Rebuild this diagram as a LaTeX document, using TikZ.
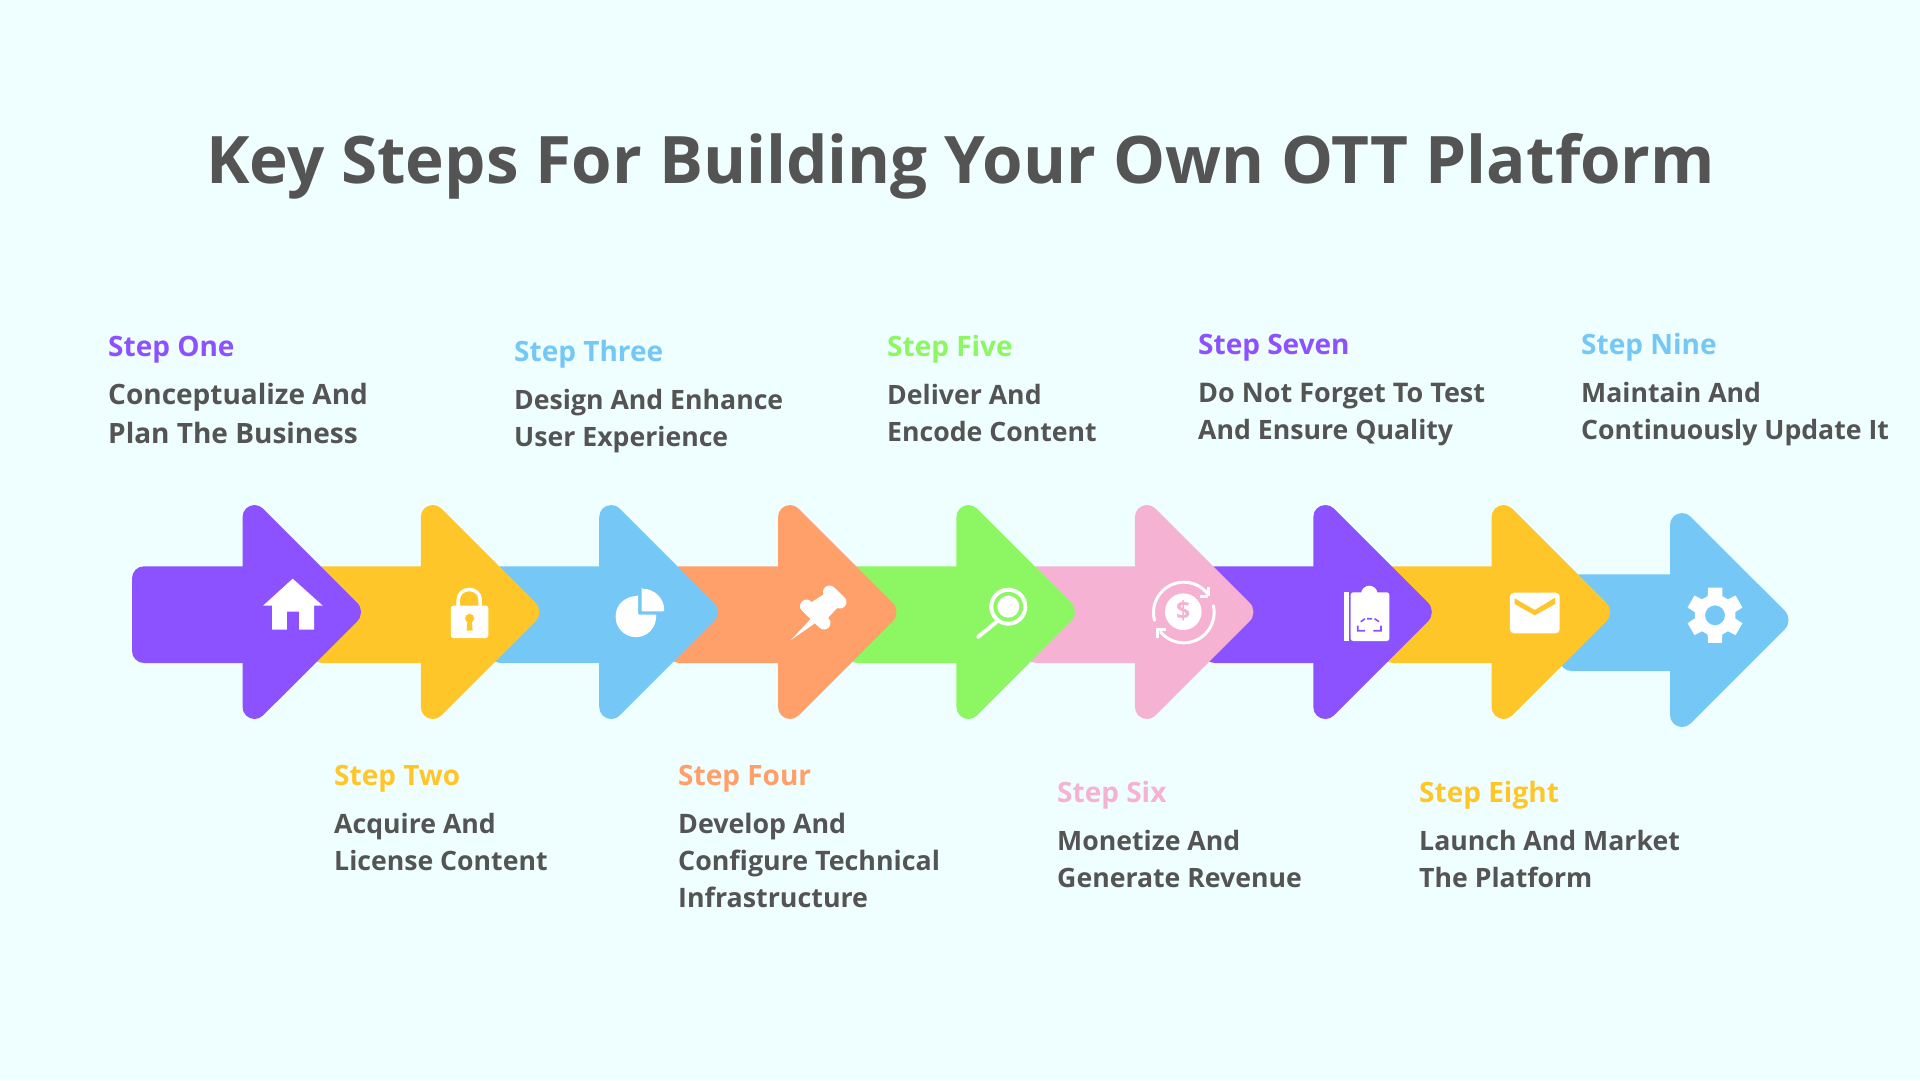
\documentclass[tikz,border=0pt]{standalone}
\usepackage{fontspec}
\setmainfont{Open Sans}
\definecolor{bgc}{HTML}{EFFFFF}
\definecolor{txc}{HTML}{545454}
\definecolor{pur}{HTML}{8C52FF}
\definecolor{yel}{HTML}{FFC629}
\definecolor{blu}{HTML}{75C8F5}
\definecolor{ora}{HTML}{FF9F69}
\definecolor{gre}{HTML}{8DF763}
\definecolor{pnk}{HTML}{F5B2D3}
\tikzset{
  ttl/.style={anchor=base west,inner sep=0pt,font=\fontsize{65.55}{78}\selectfont\bfseries,text=txc},
  stl/.style={anchor=base west,inner sep=0pt,font=\fontsize{28}{34}\selectfont\bfseries},
  bdy/.style={anchor=base west,inner sep=0pt,align=left,font=\fontsize{26.65}{36}\selectfont\bfseries,text=txc},
  bdm/.style={anchor=base west,inner sep=0pt,align=left,font=\fontsize{26.8}{36}\selectfont\bfseries,text=txc},
  bdl/.style={anchor=base west,inner sep=0pt,align=left,font=\fontsize{27}{36}\selectfont\bfseries,text=txc},
  bdb/.style={anchor=base west,inner sep=0pt,align=left,font=\fontsize{28}{39}\selectfont\bfseries,text=txc},
  icn/.style={fill=white,draw=none},
  ils/.style={draw=white,line width=4pt,line cap=round,fill=none}
}
\newcommand{\stepshape}[3]{%
  \begin{scope}[shift={(#2,#3)}]
  \fill[#1] (-98.5,-45.7) -- (0,-45.7) -- (0,-95)
    arc[start angle=180,end angle=45,radius=12pt] -- (114.6,-9.4)
    arc[start angle=45,end angle=-45,radius=13.3pt] -- (20.49,103.49)
    arc[start angle=-45,end angle=-180,radius=12pt] -- (0,51) -- (-98.5,51)
    arc[start angle=270,end angle=180,radius=12pt] -- (-110.5,-33.7)
    arc[start angle=180,end angle=90,radius=12pt] -- cycle;
  \end{scope}}
\begin{document}
\begin{tikzpicture}[x=1pt,y=-1pt]
\useasboundingbox[fill=bgc] (0,0) rectangle (1920,1080);
\stepshape{blu}{1670}{620}
\stepshape{yel}{1491.6}{612}
\stepshape{pur}{1313.3}{612}
\stepshape{pnk}{1134.9}{612}
\stepshape{gre}{956.4}{612}
\stepshape{ora}{778}{612}
\stepshape{blu}{599.2}{612}
\stepshape{yel}{420.8}{612}
\stepshape{pur}{242.5}{612}
% home
\fill[icn] (292.7,578.7) -- (322.8,605.7) -- (314,605.7) -- (314,629.7) -- (299,629.7) -- (299,611.7) -- (286.8,611.7) -- (286.8,629.7) -- (272,629.7) -- (272,605.7) -- (263,605.7) -- cycle;
% lock
\fill[icn,rounded corners=2.5pt] (450.8,605.7) rectangle (488.4,638);
\draw[white,line width=3.5pt] (458.2,606) -- (458.2,600) .. controls (458.2,586) and (480.2,586) .. (480.2,600) -- (480.2,606);
\fill[yel] (469.6,618.3) circle[radius=4.5pt];
\fill[yel] (467.6,619) -- (471.6,619) -- (472.6,630.7) -- (466.6,630.7) -- cycle;
% pie
\fill[icn,rounded corners=1pt] (638.2,596) -- (638.2,614.7) -- (656.3,614.7) .. controls (656.3,628) and (647,637) .. (636,637) .. controls (625,637) and (615.7,628) .. (615.7,616.5) .. controls (615.7,605) and (625,596) .. (638.2,596) -- cycle;
\fill[icn,rounded corners=1pt] (641.7,588.7) -- (641.7,611.3) -- (664.3,611.3) .. controls (664.3,598) and (654,588.7) .. (641.7,588.7) -- cycle;
% pin
\draw[white,line width=13pt,line cap=round] (829.5,592) -- (840,602);
\draw[white,line width=13pt,line cap=round] (806.5,606) -- (824,623);
\fill[icn] (829,591) -- (842,603) -- (824,622) -- (807,605) -- cycle;
\fill[icn] (791,640) -- (811.5,618) -- (816,622.5) -- cycle;
% magnifier
\draw[white,line width=4pt] (1008.3,606.7) circle[radius=17pt];
\fill[icn] (1008.3,606.7) circle[radius=11pt];
\draw[ils] (996,622.3) -- (978.3,636.7);
% dollar
\fill[icn] (1183.3,611.7) circle[radius=18.3pt];
\node[inner sep=0pt,text=pnk,font=\fontsize{25}{25}\selectfont\bfseries] (dollar) at (1183.3,611.2) {\$};
\draw[white,line width=3pt,line cap=round] plot[domain=195:36,samples=40] ({1183.8+30.3*cos(\x)},{612.5-30.3*sin(\x)});
\draw[white,line width=3pt,line cap=round] plot[domain=13:-140,samples=40] ({1183.8+30.3*cos(\x)},{612.5-30.3*sin(\x)});
\draw[white,line width=3pt] (1208.3,596) -- (1208.3,587) (1208.3,596) -- (1200,596);
\draw[white,line width=3pt] (1157.3,638) -- (1157.3,629.5) -- (1166,629.5);
% clipboard
\fill[icn] (1344.3,592.3) rectangle (1349,641);
\fill[icn,rounded corners=2.5pt] (1350.7,592.3) rectangle (1389.3,641);
\fill[icn] (1369.3,594) circle[radius=8.3pt];
\draw[pur,line width=1.6pt] (1357.7,625.7) -- (1357.7,630.7) -- (1365,630.7)
  (1373.3,630.7) -- (1381,630.7) -- (1381,625.7)
  (1360.7,621.7) -- (1365,618.7) (1367,618.7) -- (1372,618.7) (1374.5,618.7) -- (1379,621.7);
% envelope
\fill[icn,rounded corners=4pt] (1509.9,592.7) rectangle (1559.7,633.3);
\fill[yel] (1514.6,598.3) -- (1534.8,610) -- (1555,597.7) -- (1555,604) -- (1534.8,615.3) -- (1514.6,604) -- cycle;
% gear
\fill[icn,even odd rule]
  ({1715+28.5*cos(75)},{615.3-28.5*sin(75)})
  foreach \a in {90,150,210,270,330,390} {
    -- ({1715+28.5*cos(\a-14)},{615.3-28.5*sin(\a-14)})
    -- ({1715+28.5*cos(\a+14)},{615.3-28.5*sin(\a+14)})
    -- ({1715+20.5*cos(\a+21)},{615.3-20.5*sin(\a+21)})
    -- ({1715+20.5*cos(\a+39)},{615.3-20.5*sin(\a+39)})
  } -- cycle
  (1715,615.3) circle[radius=10pt];
% texts
\node[ttl] (title) at (206,183) {Key Steps For Building Your Own OTT Platform};
\node[stl,text=pur] (s1) at (108,356) {Step One};
\node[bdb] (d1a) at (108,404) {Conceptualize And};
\node[bdb] (d1b) at (108,443) {Plan The Business};
\node[stl,text=blu] (s3) at (514,361) {Step Three};
\node[bdy] (d3a) at (514,409) {Design And Enhance};
\node[bdy] (d3b) at (514,446) {User Experience};
\node[stl,text=gre] (s5) at (887,356) {Step Five};
\node[bdy] (d5a) at (887,404) {Deliver And};
\node[bdy] (d5b) at (887,441) {Encode Content};
\node[stl,text=pur] (s7) at (1198,354) {Step Seven};
\node[bdl] (d7a) at (1198,402) {Do Not Forget To Test};
\node[bdy] (d7b) at (1198,439) {And Ensure Quality};
\node[stl,text=blu] (s9) at (1581,354) {Step Nine};
\node[bdy] (d9a) at (1581,402) {Maintain And};
\node[bdy] (d9b) at (1581,439) {Continuously Update It};
\node[stl,text=yel] (s2) at (334,785) {Step Two};
\node[bdy] (d2a) at (334,833) {Acquire And};
\node[bdy] (d2b) at (334,870) {License Content};
\node[stl,text=ora] (s4) at (678,785) {Step Four};
\node[bdm] (d4a) at (678,833) {Develop And};
\node[bdm] (d4b) at (678,870) {Configure Technical};
\node[bdm] (d4c) at (678,907) {Infrastructure};
\node[stl,text=pnk] (s6) at (1057,802) {Step Six};
\node[bdy] (d6a) at (1057,850) {Monetize And};
\node[bdy] (d6b) at (1057,887) {Generate Revenue};
\node[stl,text=yel] (s8) at (1419,802) {Step Eight};
\node[bdy] (d8a) at (1419,850) {Launch And Market};
\node[bdy] (d8b) at (1419,887) {The Platform};
\end{tikzpicture}
\end{document}
